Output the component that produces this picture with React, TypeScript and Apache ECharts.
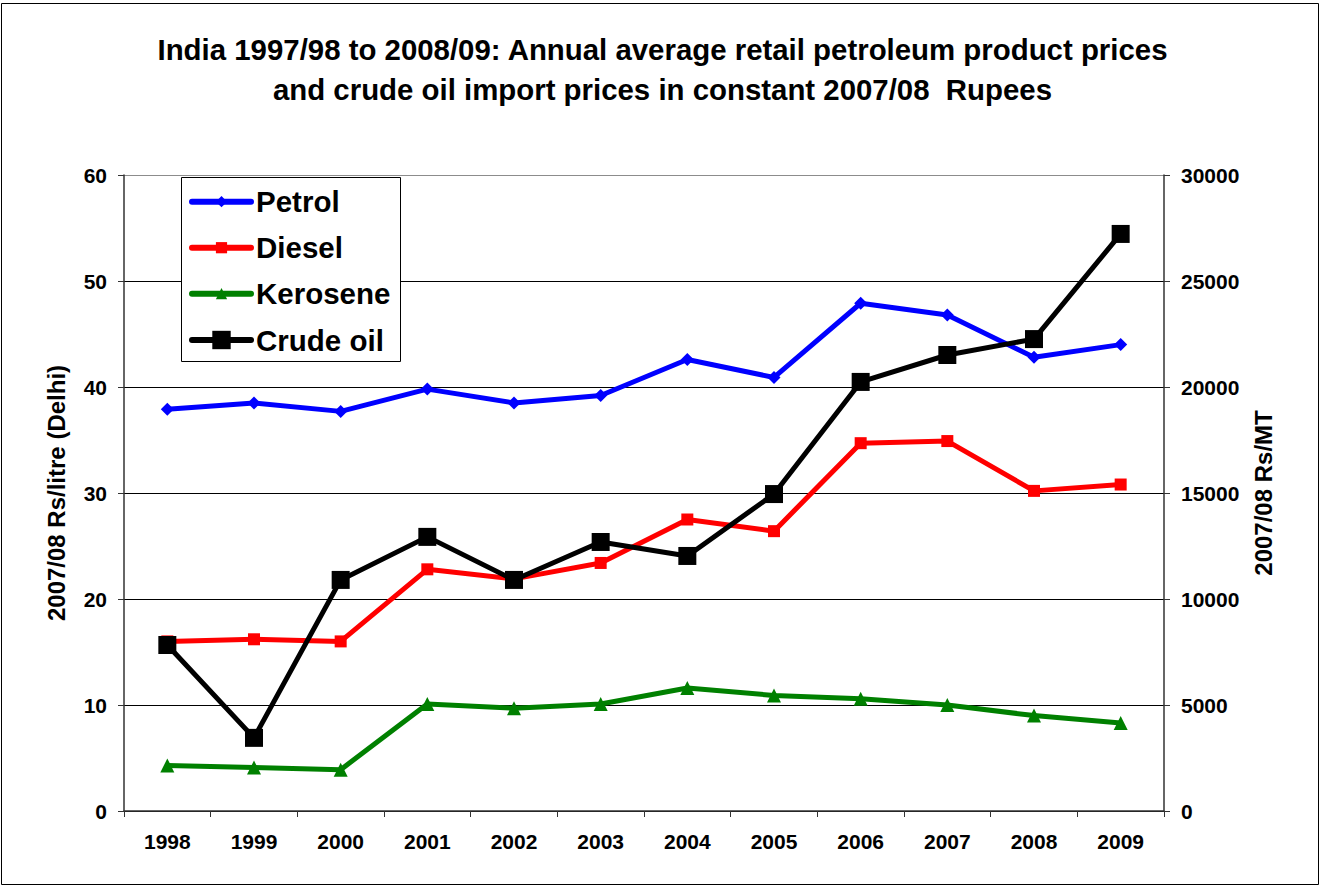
import React, { useEffect, useRef } from "react";
import * as echarts from "echarts";

const years = ["1998", "1999", "2000", "2001", "2002", "2003", "2004", "2005", "2006", "2007", "2008", "2009"];
const petrol = [37.9, 38.5, 37.7, 39.8, 38.5, 39.2, 42.6, 40.9, 47.9, 46.8, 42.8, 44.0];
const diesel = [16.0, 16.2, 16.0, 22.8, 21.9, 23.4, 27.5, 26.4, 34.7, 34.9, 30.2, 30.8];
const kerosene = [4.3, 4.1, 3.9, 10.1, 9.7, 10.1, 11.6, 10.9, 10.6, 10.0, 9.0, 8.3];
const crudeOil = [7830, 3450, 10900, 12930, 10900, 12690, 12030, 14950, 20240, 21510, 22260, 27220];

const titleText = "India 1997/98 to 2008/09: Annual average retail petroleum product prices\nand crude oil import prices in constant 2007/08  Rupees";
const leftAxisName = "2007/08 Rs/litre (Delhi)";
const rightAxisName = "2007/08 Rs/MT";

const FONT = "'Liberation Sans', Arial, sans-serif";

export default function App() {
  const ref = useRef<HTMLDivElement>(null);
  useEffect(() => {
    if (!ref.current) return;
    const chart = echarts.init(ref.current, undefined, { renderer: "svg" });
    const lineSeries = (name: string, data: number[], color: string, symbol: string, size: number, yAxisIndex = 0) => ({
      name,
      type: "line",
      data,
      yAxisIndex,
      symbol,
      symbolSize: size,
      showAllSymbol: true,
      lineStyle: { color, width: 5 },
      itemStyle: { color, borderWidth: 0 },
      emphasis: { disabled: true },
    });
    const legendText = { fontFamily: FONT, fontSize: 29.5, fontWeight: "bold", color: "#000", lineHeight: 32 };
    const legendLine = { width: 6, cap: "round" };
    const labelStyle = { fontFamily: FONT, fontSize: 21, fontWeight: "bold", color: "#000" };
    const nameStyle = { fontFamily: FONT, fontSize: 24, fontWeight: "bold", color: "#000" };
    chart.setOption({
      animation: false,
      backgroundColor: "#ffffff",
      textStyle: { fontFamily: FONT },
      title: {
        text: titleText,
        left: "center",
        top: 24,
        textStyle: { fontFamily: FONT, fontSize: 29.4, fontWeight: "bold", color: "#000", lineHeight: 40 },
      },
      grid: { left: 124, right: 161, top: 175, bottom: 75 },
      legend: [
        {
          orient: "vertical",
          left: 189,
          top: 185.7,
          padding: 0,
          selectedMode: false,
          itemWidth: 59,
          itemHeight: 14,
          itemGap: 14,
          lineStyle: legendLine,
          textStyle: legendText,
          data: [
            { name: "Petrol", lineStyle: legendLine },
            { name: "Diesel", lineStyle: legendLine },
            { name: "Kerosene", lineStyle: legendLine },
          ],
          z: 6,
        },
        {
          orient: "vertical",
          left: 189,
          top: 324,
          padding: 0,
          selectedMode: false,
          itemWidth: 59,
          itemHeight: 23,
          itemGap: 14,
          lineStyle: legendLine,
          textStyle: legendText,
          data: [{ name: "Crude oil", lineStyle: legendLine }],
          z: 6,
        },
      ],
      xAxis: {
        type: "category",
        data: years,
        boundaryGap: true,
        axisLine: { lineStyle: { color: "#333", width: 1.5 } },
        axisTick: { show: true, length: 6, lineStyle: { color: "#333" } },
        axisLabel: { ...labelStyle, margin: 20 },
        splitLine: { show: false },
      },
      yAxis: [
        {
          type: "value",
          min: 0,
          max: 60,
          interval: 10,
          position: "left",
          name: leftAxisName,
          nameLocation: "middle",
          nameGap: 56,
          nameTextStyle: nameStyle,
          axisLine: { show: true, lineStyle: { color: "#333", width: 1.5 } },
          axisTick: { show: true, length: 6, lineStyle: { color: "#333" } },
          axisLabel: { ...labelStyle, margin: 17 },
          splitLine: {
            show: true,
            lineStyle: { color: ["#000", "#000", "#000", "#000", "#000", "#000", "#8c8c8c"], width: 1 },
          },
        },
        {
          type: "value",
          min: 0,
          max: 30000,
          interval: 5000,
          position: "right",
          name: rightAxisName,
          nameLocation: "middle",
          nameGap: 87,
          nameTextStyle: nameStyle,
          axisLine: { show: true, lineStyle: { color: "#333", width: 1.5 } },
          axisTick: { show: true, length: 6, lineStyle: { color: "#333" } },
          axisLabel: { ...labelStyle, margin: 17, formatter: (v: number) => String(v) },
          splitLine: { show: false },
        },
      ],
      series: [
        lineSeries("Petrol", petrol, "#0000ff", "diamond", 13),
        lineSeries("Diesel", diesel, "#ff0000", "rect", 12),
        lineSeries("Kerosene", kerosene, "#008000", "triangle", 14),
        lineSeries("Crude oil", crudeOil, "#000000", "rect", 18, 1),
      ],
      graphic: [
        {
          type: "rect",
          shape: { x: 1.5, y: 3.5, width: 1317, height: 881 },
          style: { fill: "none", stroke: "#000", lineWidth: 1 },
          silent: true,
          z: 0,
        },
        {
          type: "rect",
          shape: { x: 181.5, y: 177.5, width: 219, height: 184 },
          style: { fill: "#fff", stroke: "#000", lineWidth: 1 },
          silent: true,
          z: 5,
        },
      ],
    });
    return () => chart.dispose();
  }, []);
  return <div ref={ref} style={{ position: "absolute", left: 0, top: 0, width: 1325, height: 886 }} />;
}
